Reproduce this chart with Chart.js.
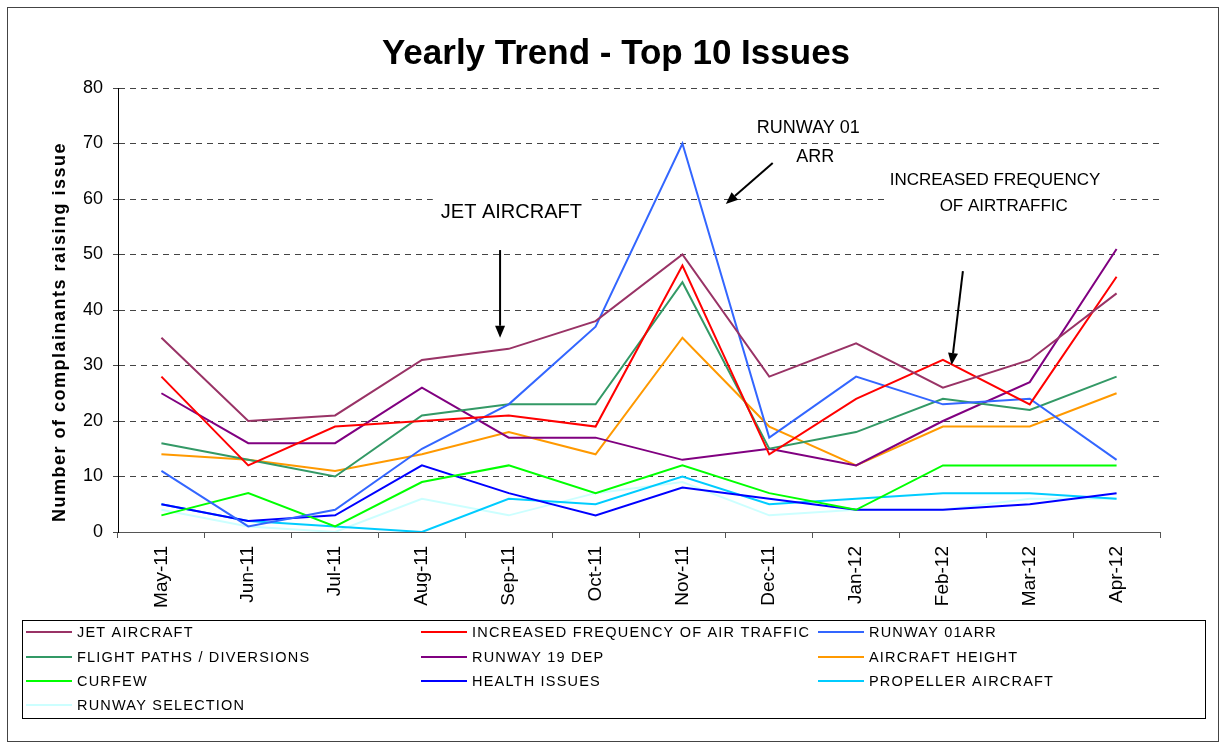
<!DOCTYPE html>
<html>
<head>
<meta charset="utf-8">
<script src="https://cdn.jsdelivr.net/npm/chart.js@4.4.0/dist/chart.umd.min.js"></script>
<style>
  html, body { margin: 0; padding: 0; background: #fff; }
</style>
</head>
<body>
<canvas id="trendChart" width="1221" height="744"></canvas>
<script>
// months on the x axis
const months = ['May-11', 'Jun-11', 'Jul-11', 'Aug-11', 'Sep-11', 'Oct-11',
                'Nov-11', 'Dec-11', 'Jan-12', 'Feb-12', 'Mar-12', 'Apr-12'];

// number of complainants per issue
const jetAircraft        = [35, 20, 21, 31, 33, 38, 50, 28, 34, 26, 31, 43];
const increasedFrequency = [28, 12, 19, 20, 21, 19, 48, 14, 24, 31, 23, 46];
const runway01Arr        = [11, 1, 4, 15, 23, 37, 70, 17, 28, 23, 24, 13];
const flightPaths        = [16, 13, 10, 21, 23, 23, 45, 15, 18, 24, 22, 28];
const runway19Dep        = [25, 16, 16, 26, 17, 17, 13, 15, 12, 20, 27, 51];
const aircraftHeight     = [14, 13, 11, 14, 18, 14, 35, 19, 12, 19, 19, 25];
const curfew             = [3, 7, 1, 9, 12, 7, 12, 7, 4, 12, 12, 12];
const healthIssues       = [5, 2, 3, 12, 7, 3, 8, 6, 4, 4, 5, 7];
const propellerAircraft  = [5, 2, 1, 0, 6, 5, 10, 5, 6, 7, 7, 6];
const runwaySelection    = [4, 1, 0, 6, 3, 7, 9, 3, 4, 4, 6, 6];

const seriesNames = ['JET AIRCRAFT', 'INCREASED FREQUENCY OF AIR TRAFFIC', 'RUNWAY 01ARR',
                     'FLIGHT PATHS / DIVERSIONS', 'RUNWAY 19 DEP', 'AIRCRAFT HEIGHT',
                     'CURFEW', 'HEALTH ISSUES', 'PROPELLER AIRCRAFT', 'RUNWAY SELECTION'];
const seriesValues = [jetAircraft, increasedFrequency, runway01Arr, flightPaths, runway19Dep,
                      aircraftHeight, curfew, healthIssues, propellerAircraft, runwaySelection];
const seriesColors = ['#993366', '#FF0000', '#3366FF', '#339966', '#800080',
                      '#FF9900', '#00FF00', '#0000FF', '#00CCFF', '#CCFFFF'];

const FONT = '"Liberation Sans", Arial, sans-serif';

// callouts, placed in axis units (x = month index, y = value)
const notes = [
    { lines: ['JET AIRCRAFT'], x: [4.03], y: [57.5], size: 20, box: true, arrow: [3.9, 50.8, 3.9, 35] },
    { lines: ['RUNWAY 01', 'ARR'], x: [7.45, 7.53], y: [72.8, 67.6], size: 18, box: false, arrow: [7.04, 66.5, 6.5, 59.1] },
    { lines: ['INCREASED FREQUENCY', 'OF AIRTRAFFIC'], x: [9.6, 9.7], y: [63.4, 58.7], size: 17, box: true, arrow: [9.23, 47, 9.1, 30.1] }
];

function drawArrow(ctx, x1, y1, x2, y2) {
    const a = Math.atan2(y2 - y1, x2 - x1);
    const head = 12, half = 5;
    const bx = x2 - head * Math.cos(a), by = y2 - head * Math.sin(a);
    ctx.beginPath();
    ctx.moveTo(x1, y1);
    ctx.lineTo(bx, by);
    ctx.stroke();
    ctx.beginPath();
    ctx.moveTo(x2, y2);
    ctx.lineTo(bx + half * Math.sin(a), by - half * Math.cos(a));
    ctx.lineTo(bx - half * Math.sin(a), by + half * Math.cos(a));
    ctx.closePath();
    ctx.fill();
}

const calloutPlugin = {
    id: 'callouts',
    beforeDatasetsDraw(chart) {
        const { ctx, scales: { x, y } } = chart;
        ctx.save();
        notes.filter(n => n.box).forEach(n => {
            ctx.font = n.size + 'px ' + FONT;
            const w = Math.max(...n.lines.map(t => ctx.measureText(t).width));
            const cx = n.x.reduce((s, v) => s + x.getPixelForValue(v), 0) / n.x.length;
            const top = y.getPixelForValue(n.y[0]) - 20;
            const bottom = y.getPixelForValue(n.y[n.y.length - 1]) + 20;
            ctx.fillStyle = '#fff';
            ctx.fillRect(cx - w / 2 - 8, top, w + 16, bottom - top);
        });
        ctx.restore();
    },
    afterDatasetsDraw(chart) {
        const { ctx, scales: { x, y } } = chart;
        ctx.save();
        ctx.fillStyle = '#000';
        ctx.strokeStyle = '#000';
        ctx.lineWidth = 2;
        ctx.textAlign = 'center';
        ctx.textBaseline = 'middle';
        notes.forEach(n => {
            ctx.font = n.size + 'px ' + FONT;
            n.lines.forEach((t, i) => {
                ctx.fillText(t, x.getPixelForValue(n.x[i]), y.getPixelForValue(n.y[i]));
            });
            const [ax1, ay1, ax2, ay2] = n.arrow;
            drawArrow(ctx, x.getPixelForValue(ax1), y.getPixelForValue(ay1),
                      x.getPixelForValue(ax2), y.getPixelForValue(ay2));
        });
        ctx.restore();
    },
    afterDraw(chart) {
        const { ctx, chartArea } = chart;

        // chart title, centred on the page like the original
        ctx.save();
        ctx.font = 'bold 35px ' + FONT;
        ctx.fillStyle = '#000';
        ctx.textAlign = 'center';
        ctx.textBaseline = 'middle';
        ctx.fillText('Yearly Trend - Top 10 Issues', 616, 54);
        ctx.restore();

        // y axis title
        ctx.save();
        ctx.translate(60, (chartArea.top + chartArea.bottom) / 2 + 22);
        ctx.rotate(-Math.PI / 2);
        ctx.font = 'bold 18px ' + FONT;
        ctx.letterSpacing = '1.5px';
        ctx.fillStyle = '#000';
        ctx.textAlign = 'center';
        ctx.textBaseline = 'middle';
        ctx.fillText('Number of complainants raising issue', 0, 0);
        ctx.restore();

        // legend box, three columns
        ctx.save();
        ctx.strokeStyle = '#000';
        ctx.lineWidth = 1;
        ctx.strokeRect(22.5, 620.5, 1183, 98);
        const cols = [26, 421, 818];
        const rows = [632, 657, 681, 705];
        ctx.font = '14.5px ' + FONT;
        ctx.letterSpacing = '1.2px';
        ctx.textBaseline = 'middle';
        ctx.textAlign = 'left';
        chart.data.datasets.forEach((ds, i) => {
            const lx = cols[i % 3], ly = rows[Math.floor(i / 3)];
            ctx.strokeStyle = ds.borderColor;
            ctx.lineWidth = 2;
            ctx.beginPath();
            ctx.moveTo(lx, ly);
            ctx.lineTo(lx + 46, ly);
            ctx.stroke();
            ctx.fillStyle = '#000';
            ctx.fillText(ds.label, lx + 51, ly + 1);
        });

        // outer frame
        ctx.strokeStyle = '#444';
        ctx.lineWidth = 1;
        ctx.strokeRect(7.5, 7.5, 1211, 734);
        ctx.restore();
    }
};

const ctx = document.getElementById('trendChart').getContext('2d');

new Chart(ctx, {
    type: 'line',
    data: {
        labels: months,
        datasets: seriesNames.map((name, i) => ({
            label: name,
            data: seriesValues[i],
            borderColor: seriesColors[i],
            backgroundColor: seriesColors[i],
            borderWidth: 2,
            pointRadius: 0,
            tension: 0,
            fill: false
        }))
    },
    options: {
        responsive: false,
        animation: false,
        layout: {
            padding: { left: 20, right: 61, top: 88, bottom: 132 }
        },
        plugins: {
            legend: { display: false },
            tooltip: { enabled: false },
            title: { display: false }
        },
        scales: {
            x: {
                offset: true,
                afterFit: (scale) => { scale.height = 80; },
                grid: {
                    offset: true,
                    drawOnChartArea: false,
                    drawTicks: true,
                    tickLength: 6,
                    color: '#555'
                },
                border: { display: true, color: '#555', width: 1 },
                ticks: {
                    autoSkip: false,
                    minRotation: 90,
                    maxRotation: 90,
                    padding: 8,
                    color: '#000',
                    font: { family: FONT, size: 19 }
                }
            },
            y: {
                min: 0,
                max: 80,
                afterFit: (scale) => { scale.width = 98; },
                grid: {
                    color: '#444',
                    lineWidth: 1,
                    tickLength: 5,
                    tickColor: '#444'
                },
                border: { display: true, color: '#000', width: 1, dash: [6, 5] },
                ticks: {
                    stepSize: 10,
                    padding: 10,
                    color: '#000',
                    font: { family: FONT, size: 18 }
                }
            }
        }
    },
    plugins: [calloutPlugin]
});
</script>
</body>
</html>
